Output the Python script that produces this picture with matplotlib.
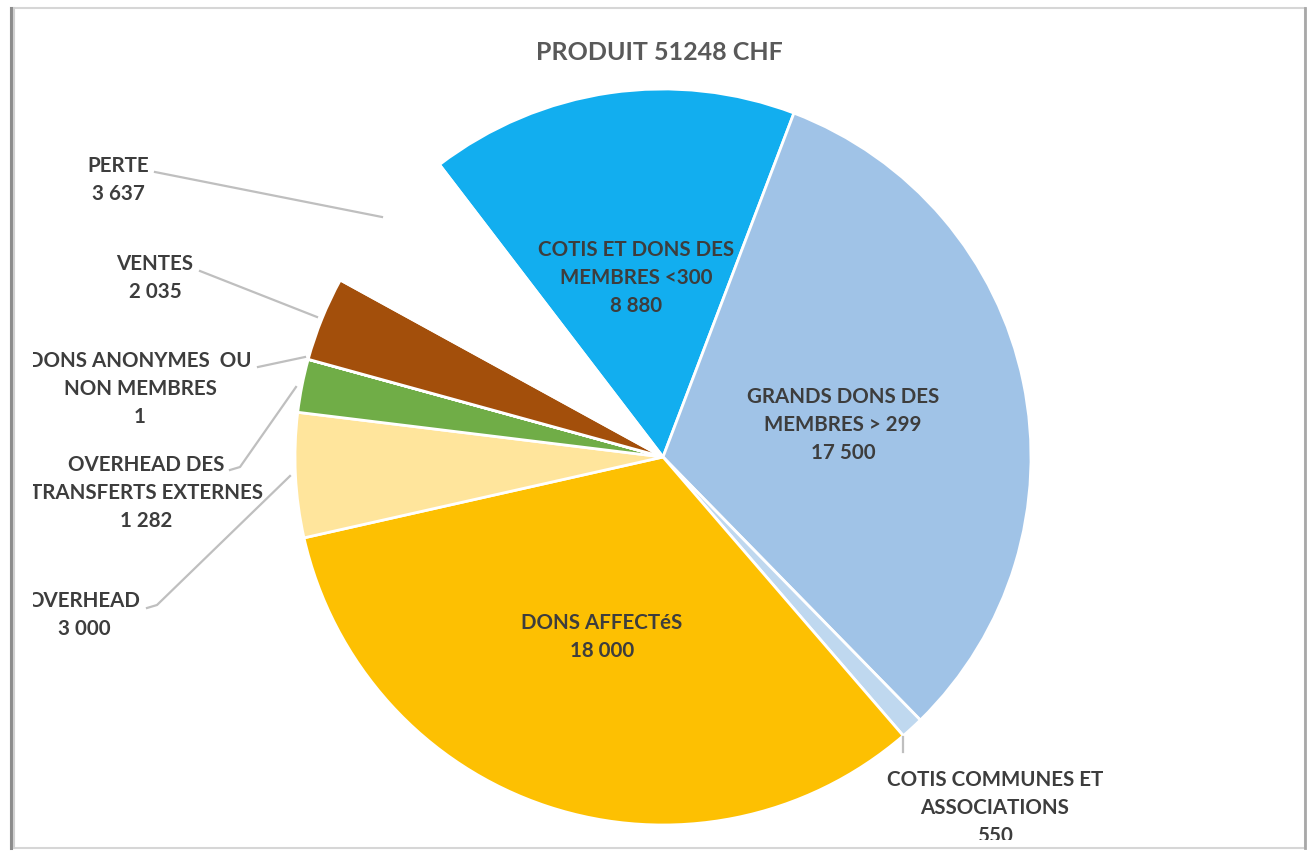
import matplotlib
matplotlib.use('Agg')
import matplotlib.pyplot as plt
from matplotlib.patches import Rectangle

# data
labels = ['COTIS ET DONS DES\nMEMBRES <300', 'GRANDS DONS DES\nMEMBRES > 299',
          'COTIS COMMUNES ET\nASSOCIATIONS', 'DONS AFFECTéS', 'OVERHEAD',
          'OVERHEAD DES\nTRANSFERTS EXTERNES', 'DONS ANONYMES  OU\nNON MEMBRES',
          'VENTES', 'PERTE']
values = [8880, 17500, 550, 18000, 3000, 1282, 1, 2035, 3637]
colors = ['#12AEEF', '#A0C3E7', '#BFD8EF', '#FDC002', '#FFE59C',
          '#70AD47', '#2F5597', '#A34F0B', 'white']
title = 'PRODUIT 51248 CHF'

W, H = 1311, 855
def Y(y):
    return H - y

def fmt(v):
    return '{:,}'.format(v).replace(',', ' ')

fig = plt.figure(figsize=(W / 100, H / 100), dpi=100)
fig.patch.set_facecolor('white')

# frame of the screenshot
ax0 = fig.add_axes([0, 0, 1, 1])
ax0.set_xlim(0, W)
ax0.set_ylim(0, H)
ax0.axis('off')
ax0.add_patch(Rectangle((11, Y(848)), 1305 - 11, 848 - 8, fill=False,
                        edgecolor='#d6d6d6', linewidth=1.5))
ax0.plot([11, 11], [Y(8), Y(848)], color='#8c8c8c', lw=2.2)
ax0.plot([13.5, 13.5], [Y(8), Y(848)], color='#d0d0d0', lw=1.5)
ax0.plot([1305, 1305], [Y(8), Y(848)], color='#a8a8a8', lw=2)

# chart area (clipped at left and bottom like the cropped original)
x0, yb = 33, 15
ax = fig.add_axes([x0 / W, yb / H, (W - x0) / W, (H - yb) / H])
ax.patch.set_alpha(0)

cx, cy, r = 663, 457, 368
wedges, _ = ax.pie(values, colors=colors, startangle=127.4, counterclock=False,
                   center=(cx, Y(cy)), radius=r,
                   wedgeprops=dict(edgecolor='white', linewidth=2))
ax.set_xlim(x0, W)
ax.set_ylim(yb, H)
ax.set_aspect('equal')
ax.axis('off')

font = 'Lato'
tc = '#3d3d3d'

ax.text(659, Y(52), title, ha='center', va='center', fontsize=18,
        fontweight='bold', color='#595959', family=font)

# label positions (centre of text block) and leader lines
lab_pos = [(636, 278), (843, 425), (995, 808), (602, 637), (84, 615),
           (146, 493), (140, 389), (155, 278), (118, 180)]
leaders = {
    2: [(903, 752), (903, 737)],
    4: [(147, 608), (157, 605), (290, 476)],
    5: [(230, 470), (240, 467), (296, 387)],
    6: [(258, 367), (305, 357)],
    7: [(200, 271), (317, 317)],
    8: [(155, 172), (382, 217)],
}

for i, (lab, v) in enumerate(zip(labels, values)):
    x, y = lab_pos[i]
    ax.text(x, Y(y), lab + '\n' + fmt(v), ha='center', va='center',
            fontsize=14.8, fontweight='bold', color=tc, family=font,
            linespacing=1.5, clip_on=True)

for i, pts in leaders.items():
    xs = [p[0] for p in pts]
    ys = [Y(p[1]) for p in pts]
    ax.plot(xs, ys, color='#bfbfbf', lw=1.6, clip_on=False)

plt.savefig('out.png', dpi=100, facecolor='white')
